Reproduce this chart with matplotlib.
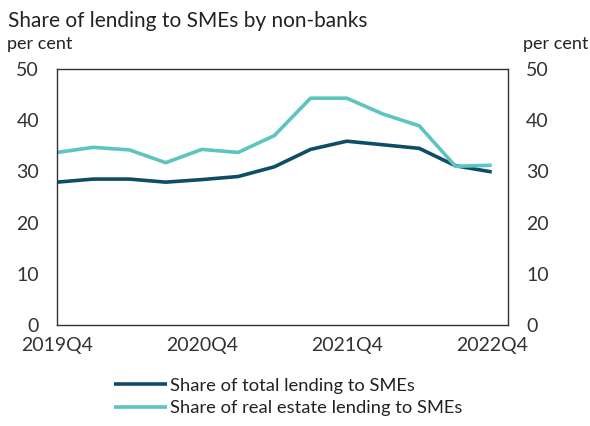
import matplotlib
matplotlib.use("Agg")
import matplotlib.pyplot as plt

quarters = ["2019Q4", "2020Q1", "2020Q2", "2020Q3", "2020Q4", "2021Q1", "2021Q2",
            "2021Q3", "2021Q4", "2022Q1", "2022Q2", "2022Q3", "2022Q4"]
total_share = [27.9, 28.5, 28.5, 27.9, 28.4, 29.0, 30.9, 34.3, 35.9, 35.2, 34.5, 31.1, 29.9]
real_estate_share = [33.7, 34.7, 34.2, 31.7, 34.3, 33.7, 37.0, 44.3, 44.3, 41.2, 38.9, 31.0, 31.2]
tick_labels = ["2019Q4", "2020Q4", "2021Q4", "2022Q4"]
y_ticks = [0, 10, 20, 30, 40, 50]

plt.rcParams['font.family'] = ['Lato', 'DejaVu Sans']
dark = "#0e4d66"
teal = "#5dc4bf"
txt = "#333333"

fig = plt.figure(figsize=(5.9, 4.26), dpi=100)
ax = fig.add_axes([57/590, 1-325/426, (508-57)/590, (325-69)/426])
x = list(range(len(quarters)))
ax.plot(x, total_share, color=dark, lw=2.6, label="Share of total lending to SMEs", solid_capstyle='butt')
ax.plot(x, real_estate_share, color=teal, lw=2.6, label="Share of real estate lending to SMEs", solid_capstyle='butt')
ax.set_xlim(0, 12.45)
ax.set_ylim(0, 50)
ax.set_yticks(y_ticks)
ax.set_xticks([quarters.index(t) for t in tick_labels])
ax.set_xticklabels(tick_labels)
for s in ax.spines.values():
    s.set_color("#333333")
    s.set_linewidth(1.0)
ax.tick_params(axis='both', length=0, labelsize=14, colors=txt)
ax.tick_params(axis='x', pad=9)
ax.tick_params(axis='y', pad=13)

ax2 = ax.twinx()
ax2.set_ylim(0, 50)
ax2.set_yticks(y_ticks)
ax2.tick_params(axis='y', length=0, labelsize=14, colors=txt, pad=13)
for s in ax2.spines.values():
    s.set_visible(False)

fig.text(8/590, 1-27/426, "Share of lending to SMEs by non-banks", fontsize=15, color="#222222", va='baseline', ha='left')
fig.text(7/590, 1-49/426, "per cent", fontsize=13, color="#222222", va='baseline', ha='left')
fig.text(588/590, 1-49/426, "per cent", fontsize=13, color="#222222", va='baseline', ha='right')

leg = fig.legend(loc='center', bbox_to_anchor=(288/590, 1-397/426), frameon=False, fontsize=13.2,
                 handlelength=2.9, handletextpad=0.16, labelspacing=0.35, labelcolor="#222222")

fig.savefig("out.png", dpi=100)
